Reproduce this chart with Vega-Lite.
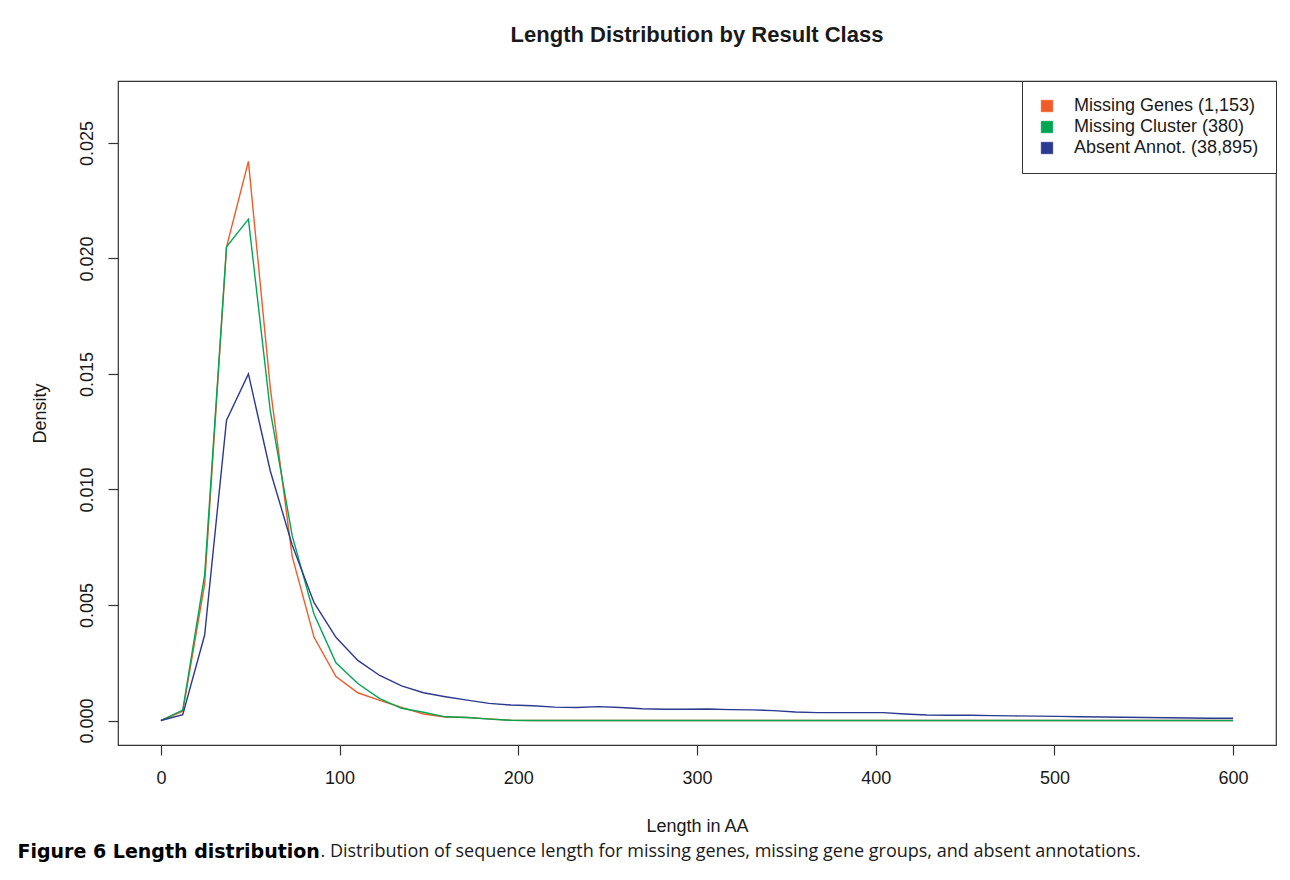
{
  "$schema": "https://vega.github.io/schema/vega-lite/v6.json",
  "width": 1158,
  "height": 664,
  "autosize": {"type": "none"},
  "padding": {"left": 118, "top": 81, "right": 14, "bottom": 135},
  "background": "white",
  "title": {"text": "Length Distribution by Result Class", "fontSize": 22, "fontWeight": "bold", "font": "Liberation Sans", "anchor": "middle", "offset": 34, "color": "#1a1a1a"},
  "config": {
    "view": {"stroke": "#333333", "strokeWidth": 1.2},
    "axis": {"grid": false, "domain": false, "tickColor": "#333333", "tickWidth": 1.2, "labelColor": "#1a1a1a", "titleColor": "#1a1a1a", "labelFont": "Liberation Sans", "titleFont": "Liberation Sans", "labelFontSize": 18, "titleFontSize": 18, "titleFontWeight": "normal"}
  },
  "data": {"values": [
    {"class": "Missing Genes (1,153)", "length": 0, "density": 0},
    {"class": "Missing Genes (1,153)", "length": 12.24, "density": 0.0004},
    {"class": "Missing Genes (1,153)", "length": 24.49, "density": 0.0059},
    {"class": "Missing Genes (1,153)", "length": 36.73, "density": 0.0205},
    {"class": "Missing Genes (1,153)", "length": 48.98, "density": 0.0242},
    {"class": "Missing Genes (1,153)", "length": 61.22, "density": 0.0144},
    {"class": "Missing Genes (1,153)", "length": 73.47, "density": 0.0071},
    {"class": "Missing Genes (1,153)", "length": 85.71, "density": 0.0036},
    {"class": "Missing Genes (1,153)", "length": 97.96, "density": 0.0019},
    {"class": "Missing Genes (1,153)", "length": 110.2, "density": 0.0012},
    {"class": "Missing Genes (1,153)", "length": 122.45, "density": 0.00087},
    {"class": "Missing Genes (1,153)", "length": 134.69, "density": 0.00057},
    {"class": "Missing Genes (1,153)", "length": 146.94, "density": 0.00028},
    {"class": "Missing Genes (1,153)", "length": 159.18, "density": 0.00015},
    {"class": "Missing Genes (1,153)", "length": 171.43, "density": 0.00013},
    {"class": "Missing Genes (1,153)", "length": 183.67, "density": 0.00007},
    {"class": "Missing Genes (1,153)", "length": 195.92, "density": 0.00001},
    {"class": "Missing Genes (1,153)", "length": 208.16, "density": 0},
    {"class": "Missing Genes (1,153)", "length": 220.41, "density": 0},
    {"class": "Missing Genes (1,153)", "length": 232.65, "density": 0},
    {"class": "Missing Genes (1,153)", "length": 244.9, "density": 0},
    {"class": "Missing Genes (1,153)", "length": 257.14, "density": 0},
    {"class": "Missing Genes (1,153)", "length": 269.39, "density": 0},
    {"class": "Missing Genes (1,153)", "length": 281.63, "density": 0},
    {"class": "Missing Genes (1,153)", "length": 293.88, "density": 0},
    {"class": "Missing Genes (1,153)", "length": 306.12, "density": 0},
    {"class": "Missing Genes (1,153)", "length": 318.37, "density": 0},
    {"class": "Missing Genes (1,153)", "length": 330.61, "density": 0},
    {"class": "Missing Genes (1,153)", "length": 342.86, "density": 0},
    {"class": "Missing Genes (1,153)", "length": 355.1, "density": 0},
    {"class": "Missing Genes (1,153)", "length": 367.35, "density": 0},
    {"class": "Missing Genes (1,153)", "length": 379.59, "density": 0},
    {"class": "Missing Genes (1,153)", "length": 391.84, "density": 0},
    {"class": "Missing Genes (1,153)", "length": 404.08, "density": 0},
    {"class": "Missing Genes (1,153)", "length": 416.33, "density": 0},
    {"class": "Missing Genes (1,153)", "length": 428.57, "density": 0},
    {"class": "Missing Genes (1,153)", "length": 440.82, "density": 0},
    {"class": "Missing Genes (1,153)", "length": 453.06, "density": 0},
    {"class": "Missing Genes (1,153)", "length": 465.31, "density": 0},
    {"class": "Missing Genes (1,153)", "length": 477.55, "density": 0},
    {"class": "Missing Genes (1,153)", "length": 489.8, "density": 0},
    {"class": "Missing Genes (1,153)", "length": 502.04, "density": 0},
    {"class": "Missing Genes (1,153)", "length": 514.29, "density": 0},
    {"class": "Missing Genes (1,153)", "length": 526.53, "density": 0},
    {"class": "Missing Genes (1,153)", "length": 538.78, "density": 0},
    {"class": "Missing Genes (1,153)", "length": 551.02, "density": 0},
    {"class": "Missing Genes (1,153)", "length": 563.27, "density": 0},
    {"class": "Missing Genes (1,153)", "length": 575.51, "density": 0},
    {"class": "Missing Genes (1,153)", "length": 587.76, "density": 0},
    {"class": "Missing Genes (1,153)", "length": 600, "density": 0},
    {"class": "Missing Cluster (380)", "length": 0, "density": 0},
    {"class": "Missing Cluster (380)", "length": 12.24, "density": 0.00045},
    {"class": "Missing Cluster (380)", "length": 24.49, "density": 0.0063},
    {"class": "Missing Cluster (380)", "length": 36.73, "density": 0.0205},
    {"class": "Missing Cluster (380)", "length": 48.98, "density": 0.0217},
    {"class": "Missing Cluster (380)", "length": 61.22, "density": 0.0134},
    {"class": "Missing Cluster (380)", "length": 73.47, "density": 0.0080},
    {"class": "Missing Cluster (380)", "length": 85.71, "density": 0.0046},
    {"class": "Missing Cluster (380)", "length": 97.96, "density": 0.0025},
    {"class": "Missing Cluster (380)", "length": 110.2, "density": 0.0016},
    {"class": "Missing Cluster (380)", "length": 122.45, "density": 0.00095},
    {"class": "Missing Cluster (380)", "length": 134.69, "density": 0.00053},
    {"class": "Missing Cluster (380)", "length": 146.94, "density": 0.00036},
    {"class": "Missing Cluster (380)", "length": 159.18, "density": 0.00016},
    {"class": "Missing Cluster (380)", "length": 171.43, "density": 0.00013},
    {"class": "Missing Cluster (380)", "length": 183.67, "density": 0.00006},
    {"class": "Missing Cluster (380)", "length": 195.92, "density": 0.00001},
    {"class": "Missing Cluster (380)", "length": 208.16, "density": 0},
    {"class": "Missing Cluster (380)", "length": 220.41, "density": 0},
    {"class": "Missing Cluster (380)", "length": 232.65, "density": 0},
    {"class": "Missing Cluster (380)", "length": 244.9, "density": 0},
    {"class": "Missing Cluster (380)", "length": 257.14, "density": 0},
    {"class": "Missing Cluster (380)", "length": 269.39, "density": 0},
    {"class": "Missing Cluster (380)", "length": 281.63, "density": 0},
    {"class": "Missing Cluster (380)", "length": 293.88, "density": 0},
    {"class": "Missing Cluster (380)", "length": 306.12, "density": 0},
    {"class": "Missing Cluster (380)", "length": 318.37, "density": 0},
    {"class": "Missing Cluster (380)", "length": 330.61, "density": 0},
    {"class": "Missing Cluster (380)", "length": 342.86, "density": 0},
    {"class": "Missing Cluster (380)", "length": 355.1, "density": 0},
    {"class": "Missing Cluster (380)", "length": 367.35, "density": 0},
    {"class": "Missing Cluster (380)", "length": 379.59, "density": 0},
    {"class": "Missing Cluster (380)", "length": 391.84, "density": 0},
    {"class": "Missing Cluster (380)", "length": 404.08, "density": 0},
    {"class": "Missing Cluster (380)", "length": 416.33, "density": 0},
    {"class": "Missing Cluster (380)", "length": 428.57, "density": 0},
    {"class": "Missing Cluster (380)", "length": 440.82, "density": 0},
    {"class": "Missing Cluster (380)", "length": 453.06, "density": 0},
    {"class": "Missing Cluster (380)", "length": 465.31, "density": 0},
    {"class": "Missing Cluster (380)", "length": 477.55, "density": 0},
    {"class": "Missing Cluster (380)", "length": 489.8, "density": 0},
    {"class": "Missing Cluster (380)", "length": 502.04, "density": 0},
    {"class": "Missing Cluster (380)", "length": 514.29, "density": 0},
    {"class": "Missing Cluster (380)", "length": 526.53, "density": 0},
    {"class": "Missing Cluster (380)", "length": 538.78, "density": 0},
    {"class": "Missing Cluster (380)", "length": 551.02, "density": 0},
    {"class": "Missing Cluster (380)", "length": 563.27, "density": 0},
    {"class": "Missing Cluster (380)", "length": 575.51, "density": 0},
    {"class": "Missing Cluster (380)", "length": 587.76, "density": 0},
    {"class": "Missing Cluster (380)", "length": 600, "density": 0},
    {"class": "Absent Annot. (38,895)", "length": 0, "density": 0},
    {"class": "Absent Annot. (38,895)", "length": 12.24, "density": 0.00025},
    {"class": "Absent Annot. (38,895)", "length": 24.49, "density": 0.0037},
    {"class": "Absent Annot. (38,895)", "length": 36.73, "density": 0.0130},
    {"class": "Absent Annot. (38,895)", "length": 48.98, "density": 0.0150},
    {"class": "Absent Annot. (38,895)", "length": 61.22, "density": 0.0108},
    {"class": "Absent Annot. (38,895)", "length": 73.47, "density": 0.0076},
    {"class": "Absent Annot. (38,895)", "length": 85.71, "density": 0.0051},
    {"class": "Absent Annot. (38,895)", "length": 97.96, "density": 0.0036},
    {"class": "Absent Annot. (38,895)", "length": 110.2, "density": 0.0026},
    {"class": "Absent Annot. (38,895)", "length": 122.45, "density": 0.00195},
    {"class": "Absent Annot. (38,895)", "length": 134.69, "density": 0.0015},
    {"class": "Absent Annot. (38,895)", "length": 146.94, "density": 0.0012},
    {"class": "Absent Annot. (38,895)", "length": 159.18, "density": 0.00103},
    {"class": "Absent Annot. (38,895)", "length": 171.43, "density": 0.00088},
    {"class": "Absent Annot. (38,895)", "length": 183.67, "density": 0.00074},
    {"class": "Absent Annot. (38,895)", "length": 195.92, "density": 0.00067},
    {"class": "Absent Annot. (38,895)", "length": 208.16, "density": 0.00064},
    {"class": "Absent Annot. (38,895)", "length": 220.41, "density": 0.00058},
    {"class": "Absent Annot. (38,895)", "length": 232.65, "density": 0.00056},
    {"class": "Absent Annot. (38,895)", "length": 244.9, "density": 0.0006},
    {"class": "Absent Annot. (38,895)", "length": 257.14, "density": 0.00056},
    {"class": "Absent Annot. (38,895)", "length": 269.39, "density": 0.00051},
    {"class": "Absent Annot. (38,895)", "length": 281.63, "density": 0.00049},
    {"class": "Absent Annot. (38,895)", "length": 293.88, "density": 0.00049},
    {"class": "Absent Annot. (38,895)", "length": 306.12, "density": 0.0005},
    {"class": "Absent Annot. (38,895)", "length": 318.37, "density": 0.00047},
    {"class": "Absent Annot. (38,895)", "length": 330.61, "density": 0.00046},
    {"class": "Absent Annot. (38,895)", "length": 342.86, "density": 0.00043},
    {"class": "Absent Annot. (38,895)", "length": 355.1, "density": 0.00037},
    {"class": "Absent Annot. (38,895)", "length": 367.35, "density": 0.00034},
    {"class": "Absent Annot. (38,895)", "length": 379.59, "density": 0.00034},
    {"class": "Absent Annot. (38,895)", "length": 391.84, "density": 0.00034},
    {"class": "Absent Annot. (38,895)", "length": 404.08, "density": 0.00034},
    {"class": "Absent Annot. (38,895)", "length": 416.33, "density": 0.00028},
    {"class": "Absent Annot. (38,895)", "length": 428.57, "density": 0.00024},
    {"class": "Absent Annot. (38,895)", "length": 440.82, "density": 0.00023},
    {"class": "Absent Annot. (38,895)", "length": 453.06, "density": 0.00023},
    {"class": "Absent Annot. (38,895)", "length": 465.31, "density": 0.00021},
    {"class": "Absent Annot. (38,895)", "length": 477.55, "density": 0.0002},
    {"class": "Absent Annot. (38,895)", "length": 489.8, "density": 0.00019},
    {"class": "Absent Annot. (38,895)", "length": 502.04, "density": 0.00018},
    {"class": "Absent Annot. (38,895)", "length": 514.29, "density": 0.00016},
    {"class": "Absent Annot. (38,895)", "length": 526.53, "density": 0.00015},
    {"class": "Absent Annot. (38,895)", "length": 538.78, "density": 0.00014},
    {"class": "Absent Annot. (38,895)", "length": 551.02, "density": 0.00013},
    {"class": "Absent Annot. (38,895)", "length": 563.27, "density": 0.00012},
    {"class": "Absent Annot. (38,895)", "length": 575.51, "density": 0.00011},
    {"class": "Absent Annot. (38,895)", "length": 587.76, "density": 0.0001},
    {"class": "Absent Annot. (38,895)", "length": 600, "density": 0.0001}
  ]},
  "resolve": {"axis": {"x": "independent"}},
  "layer": [
    {
      "mark": {"type": "line", "strokeWidth": 1.4, "interpolate": "linear"},
      "encoding": {
        "x": {"field": "length", "type": "quantitative",
          "scale": {"domain": [-24, 624], "nice": false, "zero": false},
          "axis": {"orient": "bottom", "values": [0, 100, 200, 300, 400, 500, 600], "tickSize": 10, "labelPadding": 14, "labelAngle": 0, "labelFlush": false, "labelOverlap": false,
            "title": "Length in AA", "titleX": 579, "titleY": 81, "titleBaseline": "middle", "titleAlign": "center", "titleAnchor": null}},
        "y": {"field": "density", "type": "quantitative",
          "scale": {"domain": [-0.00106, 0.02768], "nice": false, "zero": false},
          "axis": {"values": [0, 0.005, 0.01, 0.015, 0.02, 0.025], "format": ".3f", "tickSize": 10, "labelAngle": 270, "labelAlign": "center", "labelBaseline": "alphabetic", "labelPadding": 16, "labelFlush": false, "labelOverlap": false,
            "title": "Density", "titleX": -78, "titleY": 332, "titleAngle": 270, "titleBaseline": "middle", "titleAlign": "center"}},
        "color": {"field": "class", "type": "nominal",
          "scale": {"domain": ["Missing Genes (1,153)", "Missing Cluster (380)", "Absent Annot. (38,895)"], "range": ["#F15A29", "#00A651", "#2B3990"]},
          "sort": ["Missing Genes (1,153)", "Missing Cluster (380)", "Absent Annot. (38,895)"],
          "legend": {"orient": "none", "legendX": 904, "legendY": 0, "title": null, "symbolType": "square", "symbolSize": 130, "labelFont": "Liberation Sans", "labelFontSize": 18, "labelLimit": 400, "labelColor": "#1a1a1a", "labelOffset": 18, "rowPadding": 3, "padding": 16, "strokeColor": "#333333", "fillColor": "white",
            "encode": {"symbols": {"update": {"fill": {"scale": "color", "field": "value"}, "fillOpacity": {"value": 1}, "stroke": {"value": "#222222"}, "strokeWidth": {"value": 0.8}}}}}}
      }
    },
    {
      "mark": {"type": "line", "opacity": 0},
      "encoding": {
        "x": {"field": "length", "type": "quantitative",
          "axis": {"orient": "bottom", "domain": false, "ticks": false, "labels": false,
            "title": "Figure 6 Length distribution", "titleFont": "DejaVu Sans", "titleFontSize": 19, "titleFontWeight": "bold", "titleColor": "#000000",
            "titleX": -101, "titleY": 106, "titleAlign": "left", "titleBaseline": "middle", "titleAnchor": "start"}},
        "y": {"field": "density", "type": "quantitative"}
      }
    },
    {
      "mark": {"type": "line", "opacity": 0},
      "encoding": {
        "x": {"field": "length", "type": "quantitative",
          "axis": {"orient": "bottom", "domain": false, "ticks": false, "labels": false,
            "title": ". Distribution of sequence length for missing genes, missing gene groups, and absent annotations.", "titleFont": "Open Sans", "titleFontSize": 18, "titleFontWeight": "normal", "titleColor": "#1a1a1a",
            "titleX": 202, "titleY": 106, "titleAlign": "left", "titleBaseline": "middle", "titleAnchor": "start"}},
        "y": {"field": "density", "type": "quantitative"}
      }
    }
  ]
}
